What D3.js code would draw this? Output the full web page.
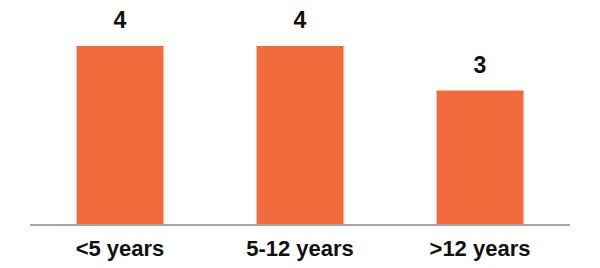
<!DOCTYPE html>
<html>
<head>
<style>
	body { margin: 0; background: #fff; }
	.bar { fill: #F26A3B; }
	.axis-line { stroke: #A6A6A6; stroke-width: 2px; }
	.value { font-family: "Liberation Sans", Arial, sans-serif; font-weight: bold; font-size: 23px; fill: #111; }
	.cat { font-family: "Liberation Sans", Arial, sans-serif; font-weight: bold; font-size: 22px; fill: #111; }
</style>
</head>
<body>
<script src="https://d3js.org/d3.v7.min.js"></script>
<script>

	var categories = ["<5 years", "5-12 years", ">12 years"];
	var values = [4, 4, 3];

	var width = 600, height = 268;
	var plotLeft = 30, plotRight = 570, baseline = 224, plotTop = 46;

	var svg = d3.select("body").append("svg")
		.attr("width", width)
		.attr("height", height);

	var x = d3.scaleBand()
		.domain(categories)
		.range([plotLeft, plotRight])
		.paddingInner(0.517)
		.paddingOuter(0.2585);

	var y = d3.scaleLinear()
		.domain([0, 4])
		.range([baseline, plotTop]);

	var data = categories.map(function(c, i) { return {cat: c, val: values[i]}; });

	svg.selectAll(".bar")
		.data(data)
		.enter().append("rect")
		.attr("class", "bar")
		.attr("x", function(d) { return x(d.cat); })
		.attr("width", x.bandwidth())
		.attr("y", function(d) { return y(d.val); })
		.attr("height", function(d) { return baseline - y(d.val); });

	svg.append("line")
		.attr("class", "axis-line")
		.attr("x1", plotLeft)
		.attr("x2", plotRight)
		.attr("y1", baseline + 1)
		.attr("y2", baseline + 1);

	svg.selectAll(".value")
		.data(data)
		.enter().append("text")
		.attr("class", "value")
		.attr("text-anchor", "middle")
		.attr("x", function(d) { return x(d.cat) + x.bandwidth() / 2; })
		.attr("y", function(d) { return y(d.val) - 18; })
		.text(function(d) { return d.val; });

	svg.selectAll(".cat")
		.data(data)
		.enter().append("text")
		.attr("class", "cat")
		.attr("text-anchor", "middle")
		.attr("x", function(d) { return x(d.cat) + x.bandwidth() / 2; })
		.attr("y", 256)
		.text(function(d) { return d.cat; });

</script>
</body>
</html>
